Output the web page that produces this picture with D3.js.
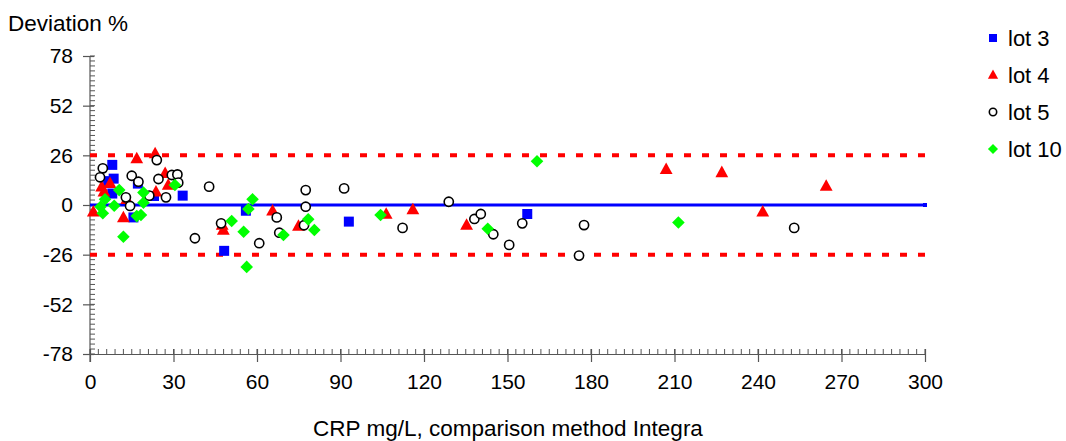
<!DOCTYPE html>
<html>
<head>
<meta charset="utf-8">
<script src="https://cdn.jsdelivr.net/npm/d3@7"></script>
<style>
  body { margin: 0; background: #fff; }
  svg text { font-family: "Liberation Sans", Arial, sans-serif; fill: #000; }
</style>
</head>
<body>
<div id="container"></div>
<script>
const WIDTH = 1066;
const HEIGHT = 441;
const LEFT = 90;
const RIGHT = 925;
const TOP = 56;
const BOTTOM = 354;

// lot 3 (blue squares): [CRP, deviation %]
const lot3 = [
  [8, 21], [8.5, 13.8], [6.5, 12.5], [8, 6], [17.2, 11.2], [15.6, -6.5],
  [23, 4.7], [33.3, 4.9], [48.2, -24], [56, -3], [93, -8.7], [157.1, -4.7]
];
// lot 4 (red triangles)
const lot4 = [
  [1.2, -3.5], [4.2, 9.6], [5, 7], [7.2, 11.4], [12, -6.5], [13.2, 3],
  [16.8, 24.4], [23.4, 27], [23.7, 7], [27, 16.6], [28.1, 10.5],
  [47.5, -10.5], [47.9, -13], [65.6, -3], [74.9, -11], [106.4, -4.7],
  [116, -2.3], [135.3, -10.5], [207, 18.7], [227, 17.1], [241.7, -3.5],
  [264.5, 10]
];
// lot 5 (open circles)
const lot5 = [
  [4.6, 19.2], [3.6, 14.5], [15, 15.3], [17.4, 12.2], [24, 23.5],
  [24.6, 13.6], [29.4, 15.7], [31.4, 16], [31.7, 11.7], [21.3, 4.9],
  [27.3, 4], [12.9, 4], [14.4, -0.5], [37.7, -17.4], [42.8, 9.6],
  [47.1, -9.6], [67.1, -6.5], [60.8, -20], [68, -14.5], [77.5, 7.8],
  [77.5, -0.9], [76.9, -10.6], [91.3, 8.7], [128.9, 1.7], [112.3, -12],
  [138.1, -7.3], [140.4, -4.7], [144.9, -15.3], [150.6, -20.9],
  [155.3, -9.6], [175.7, -26.5], [177.5, -10.5], [253, -12]
];
// lot 10 (green diamonds)
const lot10 = [
  [3.8, -0.9], [4.6, -4.3], [5.4, 3], [8.7, -0.4], [10.5, 7.8],
  [12, -16.6], [19.2, 6.5], [19.2, 1.2], [16.8, -5.8], [18.3, -5.2],
  [30.5, 10.5], [58.4, 3], [56.9, -2.1], [50.9, -8.4], [55.2, -14],
  [56.3, -32.4], [69.5, -15.7], [78.4, -7.5], [80.6, -13.1], [104.4, -5.2],
  [142.9, -12.4], [160.6, 22.9], [211.4, -9.2]
];

const seriesNames = ["lot 3", "lot 4", "lot 5", "lot 10"];
const xTicks = [0, 30, 60, 90, 120, 150, 180, 210, 240, 270, 300];
const yTicks = [-78, -52, -26, 0, 26, 52, 78];
const limits = [26, -26];

const svg = d3
  .select("div#container")
  .append("svg")
  .attr("width", WIDTH)
  .attr("height", HEIGHT);

const xScale = d3.scaleLinear().domain([0, 300]).range([LEFT, RIGHT]);
const yScale = d3.scaleLinear().domain([-78, 78]).range([BOTTOM, TOP]);

// minor ticks
const xMinor = d3.range(0, 301, 3);
const yMinor = d3.range(0, 61).map((i) => -78 + i * 2.6);

svg
  .append("g")
  .selectAll("line")
  .data(xMinor)
  .enter()
  .append("line")
  .attr("x1", (d) => xScale(d))
  .attr("x2", (d) => xScale(d))
  .attr("y1", BOTTOM)
  .attr("y2", BOTTOM - 5)
  .attr("stroke", "#555")
  .attr("stroke-width", 1);

svg
  .append("g")
  .selectAll("line")
  .data(yMinor)
  .enter()
  .append("line")
  .attr("x1", LEFT)
  .attr("x2", LEFT + 5)
  .attr("y1", (d) => yScale(d))
  .attr("y2", (d) => yScale(d))
  .attr("stroke", "#555")
  .attr("stroke-width", 1);

const xAxis = d3
  .axisBottom(xScale)
  .tickValues(xTicks)
  .tickFormat((d) => String(d))
  .tickSize(8)
  .tickPadding(12)
  .tickSizeOuter(0);
const yAxis = d3
  .axisLeft(yScale)
  .tickValues(yTicks)
  .tickFormat((d) => String(d))
  .tickSize(7)
  .tickPadding(10)
  .tickSizeOuter(0);

const gx = svg
  .append("g")
  .attr("transform", `translate(0, ${BOTTOM})`)
  .call(xAxis);
const gy = svg
  .append("g")
  .attr("transform", `translate(${LEFT}, 0)`)
  .call(yAxis);

[gx, gy].forEach((g) => {
  g.select(".domain").attr("stroke", "#555").attr("stroke-width", 1.2);
  g.selectAll(".tick line").attr("stroke", "#555").attr("stroke-width", 1.2);
  g.selectAll(".tick text").style("font-size", "21px").attr("fill", "#000");
});
gx.selectAll(".tick line").attr("y1", -5);
gy.selectAll(".tick line").attr("x1", 4);
gy.select(".domain").attr("d", `M0,${TOP}V${BOTTOM + 8}`);

// reference lines
svg
  .append("g")
  .selectAll("line")
  .data(limits)
  .enter()
  .append("line")
  .attr("x1", xScale(0))
  .attr("x2", xScale(300))
  .attr("y1", (d) => yScale(d))
  .attr("y2", (d) => yScale(d))
  .attr("stroke", "#ff0000")
  .attr("stroke-width", 4)
  .attr("stroke-dasharray", "7,11");

svg
  .append("line")
  .attr("x1", xScale(0))
  .attr("x2", xScale(300))
  .attr("y1", yScale(0))
  .attr("y2", yScale(0))
  .attr("stroke", "#0000ff")
  .attr("stroke-width", 3);
svg
  .append("rect")
  .attr("x", xScale(300) - 2)
  .attr("y", yScale(0) - 2)
  .attr("width", 4)
  .attr("height", 4)
  .attr("fill", "#0000ff");

// marker shapes
const shapes = {
  square: (s) => `M${-s},${-s}H${s}V${s}H${-s}Z`,
  triangle: (s) => `M0,${-s * 1.05}L${s},${s * 0.75}H${-s}Z`,
  diamond: (s) => `M0,${-s}L${s},0L0,${s}L${-s},0Z`
};

const series = [
  { name: seriesNames[0], data: lot3, shape: "square", size: 5, fill: "#0000ff", stroke: "none" },
  { name: seriesNames[1], data: lot4, shape: "triangle", size: 6.4, fill: "#ff0000", stroke: "none" },
  { name: seriesNames[2], data: lot5, shape: "circle", size: 4.6, fill: "#fff", stroke: "#000" },
  { name: seriesNames[3], data: lot10, shape: "diamond", size: 6.3, fill: "#00ff00", stroke: "none" }
];

function drawMarker(g, s, x, y, scale) {
  if (s.shape === "circle") {
    g.append("circle")
      .attr("cx", x)
      .attr("cy", y)
      .attr("r", s.size * scale)
      .attr("fill", s.fill)
      .attr("stroke", s.stroke)
      .attr("stroke-width", 1.6);
  } else {
    g.append("path")
      .attr("d", shapes[s.shape](s.size * scale))
      .attr("transform", `translate(${x},${y})`)
      .attr("fill", s.fill);
  }
}

series.forEach((s) => {
  const g = svg.append("g");
  s.data.forEach((d) => drawMarker(g, s, xScale(d[0]), yScale(d[1]), 1));
});

// legend
const legend = svg.append("g");
series.forEach((s, i) => {
  const cy = 38 + i * 37;
  drawMarker(legend, s, 993, cy, 0.8);
  legend
    .append("text")
    .attr("x", 1008)
    .attr("y", cy + 8)
    .style("font-size", "22px")
    .text(s.name);
});

// titles
svg
  .append("text")
  .attr("x", 8)
  .attr("y", 31)
  .style("font-size", "22.5px")
  .text("Deviation %");

svg
  .append("text")
  .attr("x", 508)
  .attr("y", 436)
  .attr("text-anchor", "middle")
  .style("font-size", "22.5px")
  .text("CRP mg/L, comparison method Integra");
</script>
</body>
</html>
